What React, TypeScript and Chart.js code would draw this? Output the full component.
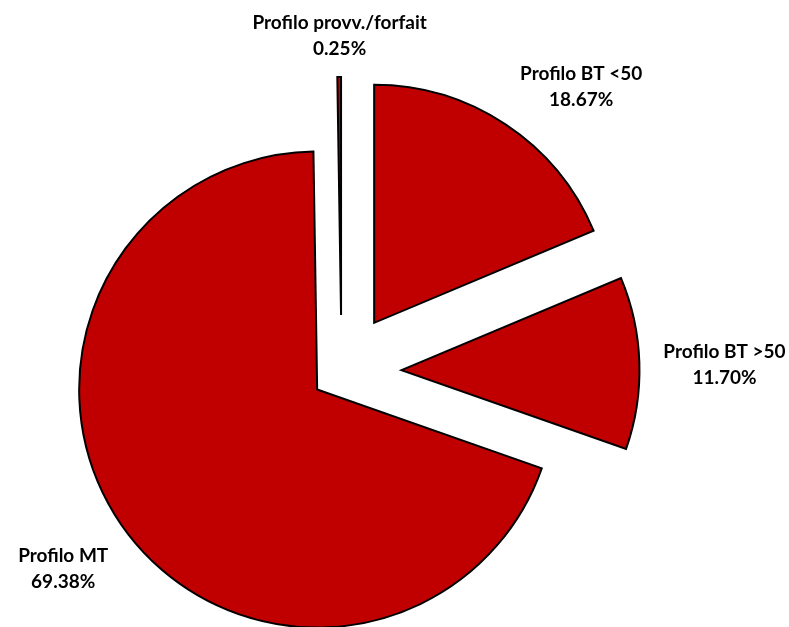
import React, { useEffect, useRef } from "react";
import { Chart, registerables, ArcElement, PieController } from "chart.js";

const categories = ["Profilo BT <50", "Profilo BT >50", "Profilo MT", "Profilo provv./forfait"];
const shares = [18.67, 11.7, 69.38, 0.25];
const explode = [59, 60, 30, 57];

const SLICE_COLOR = "#C00000";
const FONT_FAMILY = "Lato, 'Open Sans', sans-serif";
const FONT_SIZE = 19;
const LINE_HEIGHT = 26;

class ExplodedArc extends ArcElement {
  static id = "explodedArc";
  draw(ctx: CanvasRenderingContext2D) {
    const { x, y, startAngle, endAngle, outerRadius, options } = this as any;
    const off = options.offset || 0;
    const mid = (startAngle + endAngle) / 2;
    ctx.save();
    ctx.translate(Math.cos(mid) * off, Math.sin(mid) * off);
    ctx.beginPath();
    ctx.moveTo(x, y);
    ctx.arc(x, y, outerRadius, startAngle, endAngle);
    ctx.closePath();
    ctx.fillStyle = options.backgroundColor;
    ctx.fill();
    if (options.borderWidth) {
      ctx.lineWidth = options.borderWidth;
      ctx.strokeStyle = options.borderColor;
      ctx.lineJoin = "miter";
      ctx.stroke();
    }
    ctx.restore();
  }
}

class ExplodedPieController extends PieController {
  static id = "explodedPie";
  static defaults = { dataElementType: "explodedArc" };
}

Chart.register(...registerables, ExplodedArc, ExplodedPieController);

const clamp = (v: number) => Math.max(-1, Math.min(1, v));

const labelPlugin = {
  id: "sliceLabels",
  afterDatasetsDraw(chart: any) {
    const ctx: CanvasRenderingContext2D = chart.ctx;
    const meta = chart.getDatasetMeta(0);
    ctx.save();
    ctx.font = `bold ${FONT_SIZE}px ${FONT_FAMILY}`;
    ctx.fillStyle = "#000";
    ctx.textAlign = "center";
    ctx.textBaseline = "middle";
    meta.data.forEach((arc: any, i: number) => {
      const off = explode[i];
      const mid = (arc.startAngle + arc.endAngle) / 2;
      const dx = Math.cos(mid);
      const dy = Math.sin(mid);
      const gap = 22;
      const ax = arc.x + dx * (off + arc.outerRadius + gap);
      const ay = arc.y + dy * (off + arc.outerRadius + gap);
      const lines = [categories[i], shares[i].toFixed(2) + "%"];
      const w = Math.max(...lines.map((l) => ctx.measureText(l).width));
      const h = LINE_HEIGHT * lines.length - 6;
      const cx = ax + (w / 2) * clamp(dx * 2) + 2;
      const cy = ay + (h / 2) * clamp(dy * 2) + 4;
      lines.forEach((l, k) => {
        ctx.fillText(l, cx, cy - ((lines.length - 1) / 2) * LINE_HEIGHT + k * LINE_HEIGHT);
      });
    });
    ctx.restore();
  },
};

export default function App() {
  const ref = useRef<HTMLCanvasElement>(null);
  useEffect(() => {
    if (!ref.current) return;
    const chart = new Chart(ref.current, {
      type: "explodedPie" as any,
      data: {
        labels: categories,
        datasets: [
          {
            data: shares,
            backgroundColor: SLICE_COLOR,
            borderColor: "#000000",
            borderWidth: 2,
            offset: explode,
            radius: 238,
          } as any,
        ],
      },
      options: {
        responsive: false,
        animation: false,
        events: [],
        layout: { padding: { left: 0, right: 106, top: 117, bottom: 0 } },
        plugins: { legend: { display: false }, tooltip: { enabled: false } },
      } as any,
      plugins: [labelPlugin],
    });
    return () => chart.destroy();
  }, []);
  return (
    <div style={{ position: "fixed", left: 0, top: 0, width: 789, height: 627, background: "#fff" }}>
      <canvas ref={ref} width={789} height={627} style={{ width: 789, height: 627 }} />
    </div>
  );
}
